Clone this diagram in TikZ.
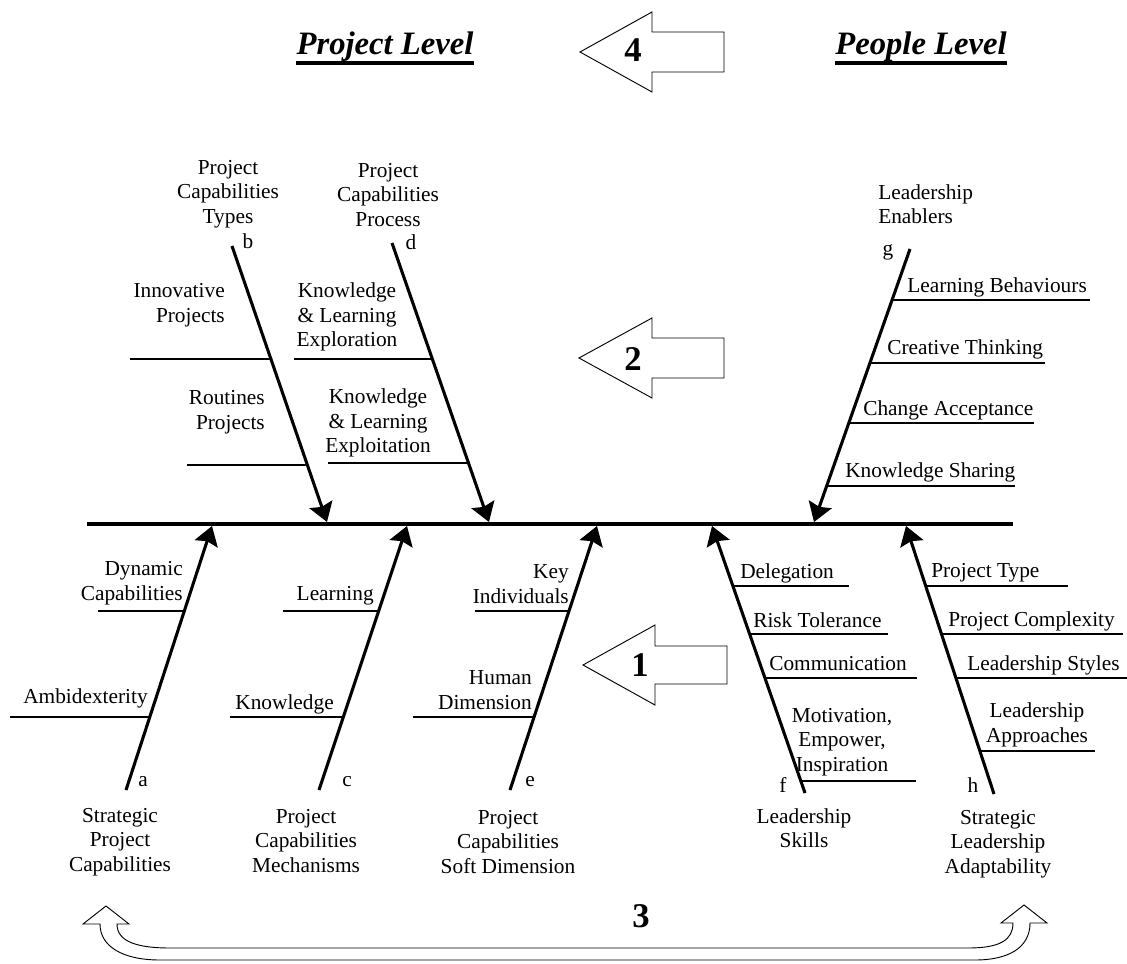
\documentclass[tikz,border=0pt]{standalone}
\usepackage{fontspec}
\setmainfont{Liberation Serif}
\usetikzlibrary{arrows.meta}

\begin{document}
\begin{tikzpicture}[x=0.75pt,y=-0.75pt,
    bone/.style={line width=2.3pt,-{Stealth[length=14pt,width=18pt,inset=2pt]}},
    twig/.style={line width=0.9pt},
    block/.style={draw,line width=0.7pt},
    lbl/.style={inner sep=0pt,font=\fontsize{16}{18.4}\selectfont},
    num/.style={inner sep=0pt,font=\fontsize{26}{30}\selectfont\bfseries},
    level/.style={inner sep=0pt,font=\fontsize{24.5}{29}\selectfont\bfseries\itshape}]

  \useasboundingbox (0,0) rectangle (1127,963);

  % headings
  \node[level,anchor=base] (pjl) at (385,55) {Project Level};
  \node[level,anchor=base] (ppl) at (921,55) {People Level};
  \draw[line width=2.6pt] ([yshift=-6pt]pjl.base west) -- ([yshift=-6pt]pjl.base east);
  \draw[line width=2.6pt] ([yshift=-6pt]ppl.base west) -- ([yshift=-6pt]ppl.base east);

  % spine
  \coordinate (s0) at (87,524);
  \coordinate (s1) at (1013,524);
  \draw[line width=3pt] (s0) -- (s1);

  % bone ends
  \coordinate (a0) at (126,790);  \coordinate (a1) at (212,526);
  \coordinate (b0) at (232,246);  \coordinate (b1) at (327,522);
  \coordinate (c0) at (319,790);  \coordinate (c1) at (407,526);
  \coordinate (d0) at (392,243);  \coordinate (d1) at (489,522);
  \coordinate (e0) at (510,790);  \coordinate (e1) at (597,526);
  \coordinate (f0) at (805,793);  \coordinate (f1) at (712,526);
  \coordinate (g0) at (910,249);  \coordinate (g1) at (814,522);
  \coordinate (h0) at (994,794);  \coordinate (h1) at (906,526);

  \path (a0) edge[bone] (a1);
  \path (b0) edge[bone] (b1);
  \path (c0) edge[bone] (c1);
  \path (d0) edge[bone] (d1);
  \path (e0) edge[bone] (e1);
  \path (f0) edge[bone] (f1);
  \path (g0) edge[bone] (g1);
  \path (h0) edge[bone] (h1);

  % sub causes
  \draw[twig] (130,359) -- (271,359);
  \draw[twig] (187,465) -- (307,465);
  \draw[twig] (294,359) -- (432,359);
  \draw[twig] (328,463) -- (469,463);
  \draw[twig] (892,300) -- (1090,300);
  \draw[twig] (870,363) -- (1045,363);
  \draw[twig] (849,423) -- (1034,423);
  \draw[twig] (827,486) -- (1015,486);
  \draw[twig] (98,611) -- (184,611);
  \draw[twig] (10,717) -- (150,717);
  \draw[twig] (283,611) -- (379,611);
  \draw[twig] (230,717) -- (343,717);
  \draw[twig] (475,611) -- (569,611);
  \draw[twig] (413,717) -- (534,717);
  \draw[twig] (733,586) -- (849,586);
  \draw[twig] (750,634) -- (888,634);
  \draw[twig] (765,678) -- (917,678);
  \draw[twig] (801,781) -- (916,781);
  \draw[twig] (926,586) -- (1068,586);
  \draw[twig] (942,634) -- (1123,634);
  \draw[twig] (956,678) -- (1127,678);
  \draw[twig] (980,751) -- (1095,751);

  \begin{scope}[every node/.style={lbl}]
    % bone heads
    \node[align=center] (tb) at (228,194) {Project\\Capabilities\\Types};
    \node[align=center] (td) at (388,195) {Project\\Capabilities\\Process};
    \node[align=left,anchor=west] (tg) at (878,204) {Leadership\\Enablers};
    \node[align=center] (ta) at (120,842) {Strategic\\Project\\Capabilities};
    \node[align=center] (tc) at (306,841) {Project\\Capabilities\\Mechanisms};
    \node[align=center] (te) at (508,842) {Project\\Capabilities\\Soft Dimension};
    \node[align=center] (tf) at (804,828) {Leadership\\Skills};
    \node[align=center] (th) at (998,844) {Strategic\\Leadership\\Adaptability};

    % bone letters
    \node (la) at (143,782) {a};
    \node (lb) at (248,241) {b};
    \node (lc) at (347,782) {c};
    \node (ld) at (411,242) {d};
    \node (le) at (530,782) {e};
    \node (lf) at (783,785) {f};
    \node (lg) at (888,252) {g};
    \node (lh) at (973,785) {h};

    % upper left
    \node[align=right,anchor=east] (inn) at (225,305) {Innovative\\Projects};
    \node[align=right,anchor=east] (rou) at (265,412) {Routines\\Projects};
    \node[align=center] (explor) at (347,317) {Knowledge\\\& Learning\\Exploration};
    \node[align=center] (exploit) at (378,423) {Knowledge\\\& Learning\\Exploitation};

    % upper right
    \node[anchor=base west] (lbeh) at (907,292) {Learning Behaviours};
    \node[anchor=base west] (crea) at (887,354) {Creative Thinking};
    \node[anchor=base west] (chac) at (863,415) {Change Acceptance};
    \node[anchor=base west] (ksha) at (845,477) {Knowledge Sharing};

    % lower left
    \node[align=right,anchor=east] (dyn) at (183,583) {Dynamic\\Capabilities};
    \node[anchor=base east] (amb) at (148,703) {Ambidexterity};
    \node[anchor=base east] (lea) at (374,600) {Learning};
    \node[anchor=base east] (kno) at (334,709) {Knowledge};
    \node[align=right,anchor=east] (key) at (569,584) {Key\\Individuals};
    \node[align=right,anchor=east] (hum) at (532,690) {Human\\Dimension};

    % lower right
    \node[anchor=base west] (dele) at (740,578) {Delegation};
    \node[anchor=base west] (risk) at (753,627) {Risk Tolerance};
    \node[anchor=base west] (comm) at (769,670) {Communication};
    \node[align=center] (moti) at (842,742) {Motivation,\\Empower,\\Inspiration};
    \node[anchor=base west] (ptyp) at (931,577) {Project Type};
    \node[anchor=base west] (pcom) at (948,626) {Project Complexity};
    \node[anchor=base west] (lsty) at (967,670) {Leadership Styles};
    \node[align=center] (lapp) at (1037,725) {Leadership\\Approaches};
  \end{scope}

  % block arrows
  \draw[block] (580,52) -- ++(72,-40) -- ++(0,20) -- ++(72,0) -- ++(0,40) -- ++(-72,0) -- ++(0,20) -- cycle;
  \draw[block] (579,358) -- ++(73,-40) -- ++(0,20) -- ++(72,0) -- ++(0,40) -- ++(-72,0) -- ++(0,20) -- cycle;
  \draw[block] (583,665) -- ++(72,-40) -- ++(0,21) -- ++(72,0) -- ++(0,38) -- ++(-72,0) -- ++(0,21) -- cycle;
  \node[num] (n4) at (633,50) {4};
  \node[num] (n2) at (633,359) {2};
  \node[num] (n1) at (640,665) {1};

  % loop arrow
  \draw[block] (106,906) -- (129,924) -- (117,924)
    .. controls (117,942) and (138,948) .. (170,948) -- (968,948)
    .. controls (1000,948) and (1013,940) .. (1013,923) -- (1001,923)
    -- (1024,905) -- (1047,923) -- (1030,923)
    .. controls (1030,948) and (1008,960) .. (975,960) -- (160,960)
    .. controls (122,960) and (100,946) .. (100,924) -- (83,924) -- cycle;
  \node[num] (n3) at (641,916) {3};

\end{tikzpicture}
\end{document}
